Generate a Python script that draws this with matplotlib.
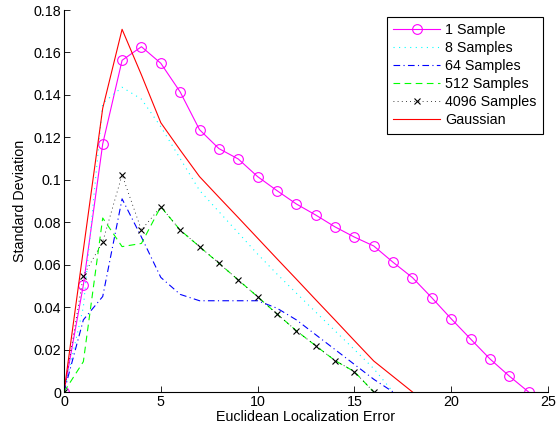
import matplotlib
matplotlib.use("Agg")
import matplotlib.pyplot as plt
import numpy as np

# Standard deviation of the estimate versus localization error
x_one = list(range(0, 25))
one_sample = [0, 0.0504, 0.1169, 0.1563, 0.1627, 0.1549, 0.1414, 0.1236, 0.1147,
              0.1098, 0.1015, 0.0949, 0.0886, 0.0834, 0.0778, 0.0730, 0.0688,
              0.0611, 0.0539, 0.0444, 0.0345, 0.0250, 0.0156, 0.0075, 0.0]

x_8 = list(range(0, 18))
samples_8 = [0, 0.040, 0.136, 0.1436, 0.138, 0.125, 0.110, 0.095, 0.085, 0.075,
             0.065, 0.0556, 0.0466, 0.0377, 0.0288, 0.020, 0.011, 0.0]

x_64 = list(range(0, 18))
samples_64 = [0, 0.034, 0.045, 0.091, 0.073, 0.054, 0.046, 0.043, 0.043, 0.043,
              0.043, 0.0395, 0.034, 0.027, 0.020, 0.013, 0.006, 0.0]

x_512 = list(range(0, 17))
samples_512 = [0, 0.0143, 0.082, 0.0685, 0.070, 0.0873, 0.0763, 0.0685, 0.0607,
               0.0528, 0.0449, 0.0368, 0.0289, 0.0218, 0.0148, 0.0096, 0.0]

x_4096 = list(range(0, 17))
samples_4096 = [0, 0.0548, 0.0708, 0.1023, 0.0763, 0.0873, 0.0763, 0.0685, 0.0607,
                0.0528, 0.0449, 0.0368, 0.0289, 0.0218, 0.0148, 0.0096, 0.0]

x_gauss = list(range(0, 19))
gaussian = [0, 0.067, 0.1337, 0.1709, 0.1494, 0.1269, 0.114, 0.1015, 0.0918,
            0.0822, 0.0725, 0.0628, 0.0532, 0.0435, 0.0339, 0.0242, 0.0146,
            0.0073, 0.0]

x_ticks = [0, 5, 10, 15, 20, 25]
y_ticks = [0, 0.02, 0.04, 0.06, 0.08, 0.1, 0.12, 0.14, 0.16, 0.18]
y_tick_labels = ["0", "0.02", "0.04", "0.06", "0.08", "0.1", "0.12", "0.14", "0.16", "0.18"]

plt.rcParams["font.family"] = ["Liberation Sans", "DejaVu Sans"]
FS = 10.3

fig = plt.figure(figsize=(5.56, 4.34), dpi=100)
ax = fig.add_axes([64 / 556, 42 / 434, 484 / 556, 382 / 434])

lw = 0.8
ax.plot(x_one, one_sample, color=(1, 0, 1), lw=lw, marker="o", markersize=7,
        markerfacecolor="none", markeredgewidth=0.8, label="1 Sample")
ax.plot(x_8, samples_8, color=(0, 1, 1), lw=lw, dashes=(1, 4), label="8 Samples")
ax.plot(x_64, samples_64, color=(0, 0, 1), lw=lw, dashes=(6, 3, 1, 3), label="64 Samples")
ax.plot(x_512, samples_512, color=(0, 1, 0), lw=lw, dashes=(6, 4), label="512 Samples")
ax.plot(x_4096, samples_4096, color="black", lw=0.6, dashes=(1, 4), marker="x",
        markersize=5, markeredgewidth=0.8, label="4096 Samples")
ax.plot(x_gauss, gaussian, color=(1, 0, 0), lw=lw, label="Gaussian")

ax.set_xlim(0, 25)
ax.set_ylim(0, 0.18)
ax.set_xticks(x_ticks)
ax.set_xticklabels([str(t) for t in x_ticks], fontsize=FS)
ax.set_yticks(y_ticks)
ax.set_yticklabels(y_tick_labels, fontsize=FS)
ax.tick_params(direction="in", length=4, width=0.6, pad=2, colors="black")
for side in ("top", "right"):
    ax.spines[side].set_visible(False)
for side in ("left", "bottom"):
    ax.spines[side].set_linewidth(0.8)

ax.set_xlabel("Euclidean Localization Error", fontsize=FS, labelpad=1)
ax.set_ylabel("Standard Deviation", fontsize=FS, labelpad=5)

leg = ax.legend(loc="upper right", bbox_to_anchor=(0.99, 0.982), borderaxespad=0,
                fontsize=FS, frameon=True, fancybox=False, edgecolor="black",
                framealpha=1, handlelength=3.3, handletextpad=0.35,
                labelspacing=0.28, borderpad=0.45)
leg.get_frame().set_linewidth(0.8)

fig.savefig("out.png", dpi=100)
